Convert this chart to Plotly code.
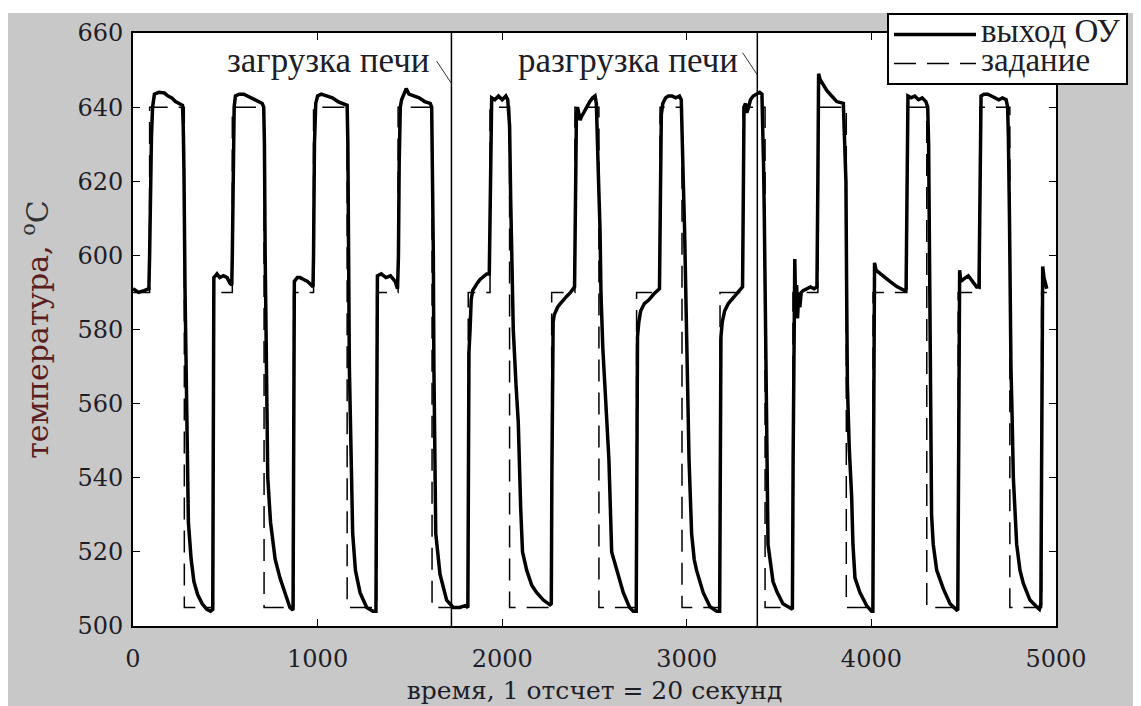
import plotly.graph_objects as go

# ---------------- data ----------------
# plant output ("выход ОУ")
out_t = [0, 30, 60, 86, 90, 95, 100, 106, 116, 140, 170, 190, 210, 230, 255, 268, 272, 276, 282, 290, 300, 315, 330, 350, 375, 400, 420, 432, 435, 438,
         455, 470, 490, 510, 525, 535, 538, 542, 548, 555, 575, 600, 620, 650, 680, 700, 708, 712, 716, 722, 730, 745, 770, 796, 830, 850, 867, 870, 874,
         890, 905, 925, 945, 965, 975, 978, 983, 990, 1000, 1020, 1050, 1080, 1110, 1140, 1160, 1164, 1168, 1172, 1180, 1190, 1205, 1230, 1266, 1300, 1316, 1320, 1324,
         1345, 1370, 1395, 1420, 1433, 1438, 1442, 1448, 1455, 1470, 1480, 1495, 1520, 1550, 1580, 1610, 1618, 1622, 1627, 1630, 1634, 1640, 1663, 1699, 1735, 1770, 1800, 1814,
         1817, 1820, 1826, 1832, 1840, 1850, 1865, 1880, 1900, 1916, 1930, 1934, 1940, 1943, 1960, 1980, 2000, 2020, 2030, 2040, 2046, 2052, 2060, 2075, 2087, 2100, 2110, 2133, 2160, 2187, 2223, 2259, 2266,
         2269, 2272, 2276, 2282, 2290, 2300, 2315, 2330, 2350, 2370, 2385, 2392, 2396, 2402, 2408, 2415, 2422, 2430, 2445, 2460, 2475, 2490, 2503, 2510, 2514, 2522, 2530, 2535, 2545, 2560, 2578, 2593, 2620, 2656, 2690, 2710, 2726,
         2729, 2733, 2740, 2750, 2770, 2795, 2820, 2845, 2852, 2857, 2862, 2870, 2885, 2900, 2920, 2940, 2960, 2970, 2975, 2981, 2988, 2999, 3005, 3012, 3026, 3040, 3053, 3089, 3126, 3162, 3178,
         3181, 3185, 3192, 3205, 3225, 3250, 3275, 3295, 3302, 3306, 3310, 3318, 3325, 3335, 3345, 3360, 3380, 3395, 3407, 3412, 3416, 3420, 3424, 3430, 3434, 3440, 3467, 3490, 3521, 3550, 3572,
         3576, 3580, 3585, 3590, 3595, 3600, 3606, 3612, 3620, 3630, 3650, 3670, 3690, 3705, 3710, 3714, 3722, 3740, 3758, 3785, 3812, 3848, 3856, 3862, 3866, 3870, 3880, 3893, 3900, 3911, 3938, 3974, 4001, 4008,
         4012, 4017, 4025, 4060, 4100, 4140, 4180, 4188, 4193, 4198, 4215, 4235, 4255, 4275, 4295, 4305, 4310, 4314, 4318, 4322, 4326, 4335, 4354, 4390, 4426, 4462, 4468,
         4473, 4478, 4484, 4495, 4510, 4525, 4540, 4555, 4570, 4583, 4588, 4594, 4610, 4630, 4650, 4670, 4690, 4710, 4730, 4738, 4742, 4748, 4751, 4756, 4762, 4769, 4787, 4805, 4823, 4859, 4895, 4910, 4918, 4922, 4928, 4935, 4942, 4950]
out_v = [591, 590, 590.5, 591, 600, 620, 632, 640, 643.5, 644, 643.8, 643, 642.5, 641.5, 641, 640.5, 635, 623, 590, 555, 528, 518, 512, 508.5, 506, 504.5, 504, 504.5, 540, 594,
         595, 594, 594.5, 594, 592.5, 592, 600, 625, 640, 643, 643.5, 643.5, 643, 642.5, 641.5, 641, 640, 630, 600, 570, 540, 528, 518, 513, 507.5, 505, 504.3, 540, 593,
         594, 594, 593.5, 593, 592, 591.5, 600, 630, 641, 643, 643.5, 643, 642.5, 641.5, 641, 640.5, 630, 600, 570, 550, 525, 515, 509, 505, 504, 504, 540, 594.5,
         595, 594, 594.5, 593, 591, 600, 625, 640, 642, 644, 645, 643.5, 643, 642.5, 641.5, 641, 640, 628, 600, 570, 545, 525, 514, 507, 505, 505, 505.5, 505,
         540, 574, 580, 588, 590.5, 591.5, 592.5, 593.5, 594.5, 595, 595, 610, 625, 642.5, 642, 643, 642, 643, 642, 635, 615, 600, 580, 565, 555, 532, 520, 515, 511, 509, 507, 505.7, 506,
         540, 575, 582, 584, 585, 586, 587, 588, 589, 590, 591, 591.5, 610, 638, 640, 638, 636.5, 637.5, 639, 640.5, 641.5, 642.5, 643, 641, 632, 620, 607, 590, 575, 560, 545, 520, 515, 509, 505, 504, 504,
         540, 578, 582, 585, 587, 588, 589.5, 590.5, 591, 615, 638, 641, 642.5, 643, 643, 642.5, 643, 642, 635, 620, 607, 578, 560, 545, 525, 518, 515, 509, 505.2, 504, 504,
         540, 578, 582, 585, 587, 588.5, 590, 591, 591.5, 615, 640, 641, 638.5, 640, 642, 643, 643.5, 644, 643.5, 635, 624, 610, 590, 565, 540, 522, 512, 509, 506, 505, 504.5,
         545, 590, 599, 585, 592, 583, 590, 586, 590, 590.5, 591, 591.5, 591, 591.5, 620, 649, 647.5, 646, 644.5, 643, 641.5, 641, 630, 620, 590, 565, 548, 535, 522, 513, 509, 505.5, 504, 504,
         550, 598, 596, 594.5, 593, 591.5, 590.5, 591, 620, 643, 642.5, 643, 642, 642.5, 641.5, 640, 630, 600, 575, 545, 530, 522, 515, 510, 506, 504.3, 504.5,
         550, 596, 593, 593.5, 594, 594.5, 593.5, 592.5, 591.5, 591.5, 615, 643, 643.5, 643.5, 643, 642.5, 642, 642.5, 642, 640, 632, 610, 590, 570, 557, 540, 522, 515, 511.5, 507, 505.2, 504.5, 506, 540, 597, 594, 592, 591]

# set point ("задание"), step function
sp_t = [0, 90, 278, 435, 538, 710, 870, 978, 1160, 1320, 1436, 1620, 1816, 1934, 2040, 2268, 2394, 2524,
        2728, 2855, 2974, 3180, 3305, 3424, 3575, 3710, 3864, 4009, 4192, 4300, 4470, 4588, 4750, 4922, 4950]
sp_v = [590, 640, 505, 590, 640, 505, 590, 640, 505, 590, 640, 505, 590, 640, 505, 590, 640, 505,
        590, 640, 505, 590, 640, 505, 590, 640, 505, 590, 640, 505, 590, 640, 505, 590, 590]

# events (furnace loading / unloading)
event_t = [1725, 3382]
event_labels = ["загрузка печи", "разгрузка печи"]
label_t = [1620, 3288]      # right end of each label
label_v = [652.7, 652.7]
leader_v = [646.4, 648.7]   # where each leader meets the event line

x_ticks = [0, 1000, 2000, 3000, 4000, 5000]
y_ticks = [500, 520, 540, 560, 580, 600, 620, 640, 660]

# ---------------- figure ----------------
SERIF_TXT = "Liberation Serif, Times New Roman, serif"
SERIF_NUM = "DejaVu Serif, serif"
INK = "#1e1e28"

fig = go.Figure()

fig.add_trace(go.Scatter(
    x=sp_t, y=sp_v, mode="lines", line_shape="hv",
    name='<span style="font-size:33px">задание</span>',
    line=dict(color="black", width=1.5, dash="22px,11px"), legendrank=2))

fig.add_trace(go.Scatter(
    x=out_t, y=out_v, mode="lines",
    name='<span style="font-size:33px">выход ОУ</span>',
    line=dict(color="black", width=3.5), legendrank=1))

for t in event_t:
    fig.add_vline(x=t, line=dict(color="black", width=1.5))

for t, lab, lt, lv, pv in zip(event_t, event_labels, label_t, label_v, leader_v):
    fig.add_annotation(x=lt, y=lv, text=lab, showarrow=False, xanchor="right", yanchor="middle",
                       font=dict(family=SERIF_TXT, size=35, color=INK))
    fig.add_shape(type="line", xref="x", yref="y", x0=t - 80, y0=pv + 6, x1=t, y1=pv,
                  line=dict(color="#333", width=1))

axis_common = dict(showline=True, linewidth=2, linecolor="black", mirror="ticks",
                   ticks="inside", ticklen=7, tickwidth=1, tickcolor="black",
                   showgrid=False, zeroline=False, automargin=False,
                   tickfont=dict(family=SERIF_NUM, size=24, color=INK))

fig.update_xaxes(range=[0, 5000], tickvals=x_ticks, ticklabelstandoff=10,
                 title=dict(text="время, 1 отсчет = 20 секунд", standoff=10,
                            font=dict(family=SERIF_NUM, size=25, color=INK)),
                 **axis_common)
fig.update_yaxes(range=[500, 660], tickvals=y_ticks, ticklabelstandoff=3,
                 title=dict(text='<span style="color:#5a1e1e">температура,</span> <sup>o</sup>C',
                            standoff=20, font=dict(family=SERIF_NUM, size=30, color="#333")),
                 **axis_common)

# thin white strip along the top edge of the page, grey elsewhere
fig.add_shape(type="rect", xref="paper", yref="paper", x0=-0.2, x1=1.2, y0=1.0337, y1=1.1,
              fillcolor="white", line_width=0, layer="below")

fig.update_layout(
    width=1141, height=706, autosize=False,
    margin=dict(l=125, r=93, t=25, b=88, autoexpand=False),
    paper_bgcolor="#c8c8c8", plot_bgcolor="white",
    showlegend=True,
    legend=dict(x=0.8169, y=1.0337, xanchor="left", yanchor="top",
                bgcolor="white", bordercolor="black", borderwidth=2,
                font=dict(family=SERIF_TXT, size=20, color=INK),
                itemwidth=82, tracegroupgap=0),
)

fig.write_html("out.html")
